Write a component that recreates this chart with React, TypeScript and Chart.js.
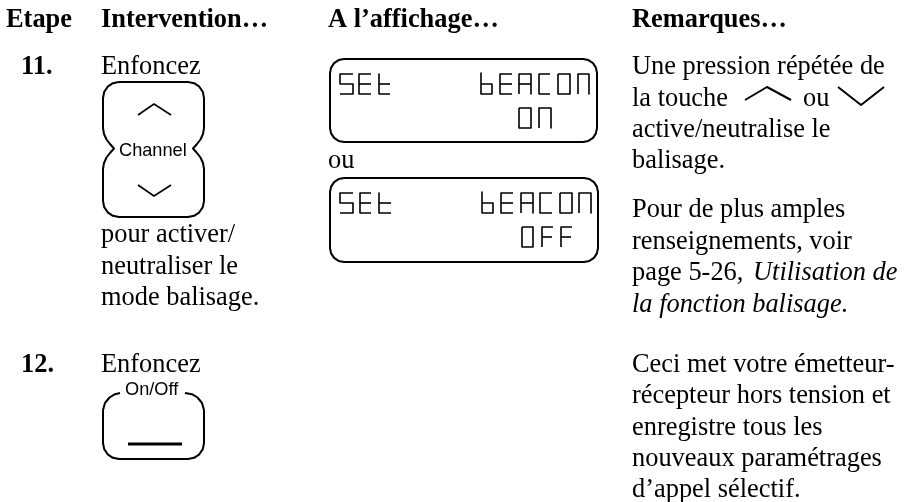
import React, { useEffect, useRef } from "react";
import { Chart, registerables } from "chart.js";

Chart.register(...registerables);

type P = [number, number];
type Stroke = P[];

const SERIF = '"Liberation Serif"';
const SANS = '"Liberation Sans"';

// [text, x, baseline y]
const headerTexts: [string, number, number][] = [
  ["Etape", 6, 27],
  ["Intervention…", 101, 27],
  ["A l’affichage…", 328, 27],
  ["Remarques…", 632, 27],
];
const stepTexts: [string, number, number][] = [
  ["11.", 21, 74],
  ["12.", 21, 372],
];
const bodyTexts: [string, number, number][] = [
  ["Enfoncez", 101, 74],
  ["pour activer/", 101, 242],
  ["neutraliser le", 101, 274],
  ["mode balisage.", 101, 305],
  ["Enfoncez", 101, 372],
  ["ou", 328, 168],
  ["Une pression répétée de", 632, 74],
  ["la touche", 632, 106],
  ["ou", 803, 106],
  ["active/neutralise le", 632, 137],
  ["balisage.", 632, 168],
  ["Pour de plus amples", 632, 217],
  ["renseignements, voir", 632, 249],
  ["page 5-26,", 632, 280],
  ["Ceci met votre émetteur-", 632, 372],
  ["récepteur hors tension et", 632, 403],
  ["enregistre tous les", 632, 435],
  ["nouveaux paramétrages", 632, 466],
  ["d’appel sélectif.", 632, 497],
];
const italicTexts: [string, number, number][] = [
  ["Utilisation de", 753, 280],
  ["la fonction balisage.", 632, 312],
];
const keyLabels: [string, number, number][] = [
  ["Channel", 119, 156],
  ["On/Off", 125, 395],
];

const displayBoxOne: Stroke[] = [[
  [344, 59], [583, 59], [588.4, 60.1], [593, 63.1], [595.9, 67.6], [597, 73],
  [597, 128], [595.9, 133.4], [593, 137.9], [588.4, 140.9], [583, 142],
  [344, 142], [338.6, 140.9], [334.1, 137.9], [331.1, 133.4], [330, 128],
  [330, 73], [331.1, 67.6], [334.1, 63.1], [338.6, 60.1], [344, 59],
]];
const displayBoxTwo: Stroke[] = [[
  [344, 178], [584, 178], [589.4, 179.1], [594, 182.1], [596.9, 186.6], [598, 192],
  [598, 248], [596.9, 253.4], [594, 257.9], [589.4, 260.9], [584, 262],
  [344, 262], [338.6, 260.9], [334.1, 257.9], [331.1, 253.4], [330, 248],
  [330, 192], [331.1, 186.6], [334.1, 182.1], [338.6, 179.1], [344, 178],
]];
const channelKey: Stroke[] = [[
  [119, 82], [188, 82], [194.1, 83.2], [199.3, 86.7], [202.8, 91.9], [204, 98],
  [204, 128], [203, 134], [200.5, 139.5], [197, 144], [193, 148.5],
  [197, 153], [200.5, 157.5], [203, 163], [204, 169],
  [204, 201], [202.8, 207.1], [199.3, 212.3], [194.1, 215.8], [188, 217],
  [119, 217], [112.9, 215.8], [107.7, 212.3], [104.2, 207.1], [103, 201],
  [103, 169], [104, 163], [106.5, 157.5], [110, 153], [114, 148.5],
  [110, 144], [106.5, 139.5], [104, 134], [103, 128],
  [103, 98], [104.2, 91.9], [107.7, 86.7], [112.9, 83.2], [119, 82],
]];
const channelChevrons: Stroke[] = [
  [[138, 115], [154, 104], [171, 115]],
  [[138, 185], [154, 196], [171, 185]],
];
const onOffKey: Stroke[] = [[
  [120, 393], [115, 394.2], [109.5, 397.5], [105, 403], [103, 410],
  [103, 443], [104.2, 449.1], [107.7, 454.3], [112.9, 457.8], [119, 459],
  [188, 459], [194.1, 457.8], [199.3, 454.3], [202.8, 449.1], [204, 443],
  [204, 410], [202, 403], [197.5, 397.5], [192, 394.2], [185, 393],
]];
const onOffBar: Stroke[] = [[[128, 444], [182, 444]]];
const noteChevrons: Stroke[] = [
  [[745, 100], [767, 87], [791, 100]],
  [[838, 87], [861, 105], [884, 87]],
];
const lcdRowOne: Stroke[] = [
  [[353, 74], [340, 74], [340, 84], [353, 84], [353, 94], [340, 94]],
  [[371, 74], [359, 74], [359, 94], [371, 94]], [[359, 84], [371, 84]],
  [[379, 74], [379, 94], [390, 94]], [[379, 84], [390, 84]],
  [[481, 73], [481, 94], [492, 94], [492, 84], [481, 84]],
  [[512, 74], [500, 74], [500, 94], [512, 94]], [[500, 84], [512, 84]],
  [[519, 94], [519, 74], [531, 74], [531, 94]], [[519, 84], [531, 84]],
  [[550, 74], [539, 74], [539, 94], [550, 94]],
  [[558, 74], [570, 74], [570, 94], [558, 94], [558, 74]],
  [[578, 94], [578, 74], [589, 74], [589, 94]],
  [[519, 108], [531, 108], [531, 128], [519, 128], [519, 108]],
  [[539, 128], [539, 108], [551, 108], [551, 128]],
];
const lcdRowTwo: Stroke[] = [
  [[353, 193], [340, 193], [340, 203], [353, 203], [353, 213], [340, 213]],
  [[371, 193], [360, 193], [360, 213], [371, 213]], [[360, 203], [371, 203]],
  [[379, 193], [379, 213], [391, 213]], [[379, 203], [391, 203]],
  [[482, 192], [482, 213], [493, 213], [493, 203], [482, 203]],
  [[513, 193], [501, 193], [501, 213], [513, 213]], [[501, 203], [513, 203]],
  [[521, 213], [521, 193], [533, 193], [533, 213]], [[521, 203], [533, 203]],
  [[552, 193], [540, 193], [540, 213], [552, 213]],
  [[560, 193], [572, 193], [572, 213], [560, 213], [560, 193]],
  [[579, 213], [579, 193], [591, 193], [591, 213]],
  [[522, 227], [533, 227], [533, 247], [522, 247], [522, 227]],
  [[542, 247], [542, 227], [553, 227]], [[542, 237], [552, 237]],
  [[561, 247], [561, 227], [572, 227]], [[561, 237], [571, 237]],
];

const strokeSets: [Stroke[], number][] = [
  [displayBoxOne, 2],
  [displayBoxTwo, 2],
  [channelKey, 2],
  [channelChevrons, 1.6],
  [onOffKey, 2],
  [onOffBar, 3],
  [noteChevrons, 2],
  [lcdRowOne, 1.6],
  [lcdRowTwo, 1.6],
];

const textSets: [[string, number, number][], string][] = [
  [headerTexts, `bold 26.4px ${SERIF}`],
  [stepTexts, `bold 26.4px ${SERIF}`],
  [bodyTexts, `26.4px ${SERIF}`],
  [italicTexts, `italic 26.4px ${SERIF}`],
  [keyLabels, `18.2px ${SANS}`],
];

const textPlugin = {
  id: "pageText",
  afterDatasetsDraw(chart: any) {
    const { ctx, scales } = chart;
    ctx.save();
    ctx.fillStyle = "#000";
    ctx.textBaseline = "alphabetic";
    ctx.textAlign = "left";
    for (const [items, font] of textSets) {
      ctx.font = font;
      for (const [t, x, y] of items) {
        ctx.fillText(t, scales.x.getPixelForValue(x), scales.y.getPixelForValue(y));
      }
    }
    ctx.restore();
  },
};

export default function App() {
  const ref = useRef<HTMLCanvasElement>(null);
  useEffect(() => {
    document.body.style.margin = "0";
    document.body.style.background = "#fff";
    const datasets = strokeSets.flatMap(([strokes, w]) =>
      strokes.map((s) => ({
        data: s.map(([x, y]) => ({ x, y })),
        showLine: true,
        borderColor: "#000",
        borderWidth: w,
        pointRadius: 0,
        tension: 0,
        fill: false,
        borderCapStyle: "butt" as const,
        borderJoinStyle: "round" as const,
      }))
    );
    const chart = new Chart(ref.current!, {
      type: "scatter",
      data: { datasets },
      options: {
        animation: false,
        responsive: false,
        layout: { padding: 0 },
        plugins: { legend: { display: false }, tooltip: { enabled: false }, title: { display: false } },
        scales: {
          x: { type: "linear", min: 0, max: 906, display: false },
          y: { type: "linear", min: 0, max: 502, reverse: true, display: false },
        },
      },
      plugins: [textPlugin],
    });
    return () => chart.destroy();
  }, []);
  return <canvas ref={ref} width={906} height={502} style={{ display: "block" }} />;
}
